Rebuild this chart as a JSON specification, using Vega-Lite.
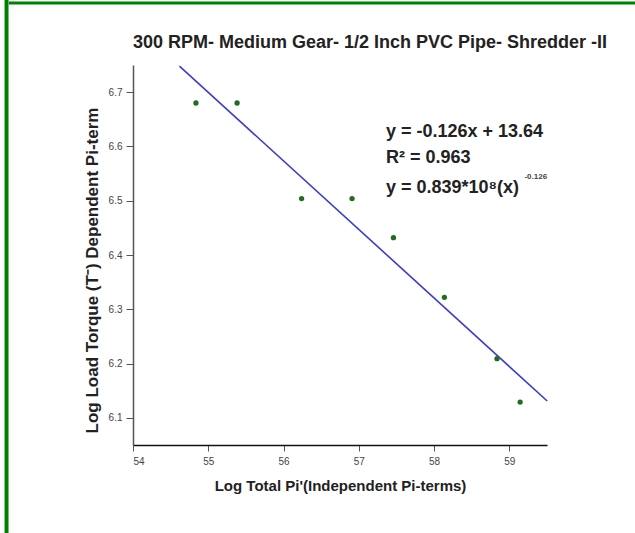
{
  "$schema": "https://vega.github.io/schema/vega-lite/v6.json",
  "autosize": "none",
  "width": 414,
  "height": 380,
  "padding": {"left": 133, "top": 65, "right": 88, "bottom": 88},
  "background": "#ffffff",
  "config": {
    "view": {"stroke": null},
    "font": "Liberation Sans"
  },
  "title": {
    "text": "300 RPM- Medium Gear- 1/2 Inch PVC Pipe- Shredder -II",
    "font": "Liberation Sans",
    "fontSize": 18,
    "fontWeight": "bold",
    "color": "#222222",
    "anchor": "middle",
    "frame": "group",
    "dx": 30,
    "offset": -60
  },
  "datasets": {
    "points": [
      {"x": 54.836, "y": 6.680},
      {"x": 55.383, "y": 6.680},
      {"x": 56.240, "y": 6.504},
      {"x": 56.910, "y": 6.504},
      {"x": 57.460, "y": 6.432},
      {"x": 58.137, "y": 6.322},
      {"x": 58.836, "y": 6.209},
      {"x": 59.143, "y": 6.129}
    ],
    "fit": [
      {"x": 54.617, "y": 6.748},
      {"x": 59.503, "y": 6.131}
    ],
    "notes": [
      {"x": 57.36, "y": 6.626, "label": "y = -0.126x + 13.64"},
      {"x": 57.36, "y": 6.578, "label": "R² = 0.963"},
      {"x": 57.36, "y": 6.523, "label": "y = 0.839*10⁸(x)"}
    ],
    "sup": [
      {"x": 59.2, "y": 6.543, "label": "-0.126"}
    ],
    "frameV": [
      {"x": 52.32, "y": 6.88, "y2": 5.88}
    ],
    "frameH": [
      {"x": 52.35, "x2": 60.7, "y": 6.8644}
    ]
  },
  "layer": [
    {
      "data": {"name": "fit"},
      "mark": {"type": "line", "color": "#3b3bcc", "strokeWidth": 1.6},
      "encoding": {
        "x": {
          "field": "x", "type": "quantitative",
          "scale": {"domain": [54, 59.5], "nice": false, "zero": false},
          "axis": {
            "title": "Log Total Pi'(Independent Pi-terms)",
            "values": [54, 55, 56, 57, 58, 59],
            "format": "d",
            "grid": false,
            "domainColor": "#111111",
            "domainWidth": 1.5,
            "tickColor": "#555555",
            "tickSize": 6,
            "labelFont": "Liberation Sans",
            "labelFontSize": 10,
            "labelColor": "#444444",
            "labelPadding": 5,
            "titleFont": "Liberation Sans",
            "titleFontSize": 15,
            "titleFontWeight": "bold",
            "titleColor": "#222222",
            "titlePadding": 12
          }
        },
        "y": {
          "field": "y", "type": "quantitative",
          "scale": {"domain": [6.05, 6.75], "nice": false, "zero": false},
          "axis": {
            "title": "Log Load Torque (T⁻) Dependent Pi-term",
            "values": [6.1, 6.2, 6.3, 6.4, 6.5, 6.6, 6.7],
            "format": ".1f",
            "grid": false,
            "domainColor": "#555555",
            "domainWidth": 1.5,
            "tickColor": "#555555",
            "tickSize": 7,
            "labelFont": "Liberation Sans",
            "labelFontSize": 10,
            "labelColor": "#444444",
            "labelPadding": 4,
            "titleFont": "Liberation Sans",
            "titleFontSize": 17,
            "titleFontWeight": "bold",
            "titleColor": "#222222",
            "titlePadding": 7,
            "titleY": 205
          }
        }
      }
    },
    {
      "data": {"name": "points"},
      "mark": {"type": "circle", "color": "#1f6e1f", "opacity": 1, "size": 28},
      "encoding": {
        "x": {"field": "x", "type": "quantitative"},
        "y": {"field": "y", "type": "quantitative"}
      }
    },
    {
      "data": {"name": "notes"},
      "mark": {"type": "text", "align": "left", "baseline": "middle", "font": "Liberation Sans", "fontSize": 18, "fontWeight": "bold", "color": "#222222"},
      "encoding": {
        "x": {"field": "x", "type": "quantitative"},
        "y": {"field": "y", "type": "quantitative"},
        "text": {"field": "label"}
      }
    },
    {
      "data": {"name": "sup"},
      "mark": {"type": "text", "align": "left", "baseline": "middle", "font": "Liberation Sans", "fontSize": 8, "fontWeight": "bold", "color": "#444444"},
      "encoding": {
        "x": {"field": "x", "type": "quantitative"},
        "y": {"field": "y", "type": "quantitative"},
        "text": {"field": "label"}
      }
    },
    {
      "data": {"name": "frameV"},
      "mark": {"type": "rule", "color": "#008000", "strokeWidth": 4, "clip": false},
      "encoding": {
        "x": {"field": "x", "type": "quantitative"},
        "y": {"field": "y", "type": "quantitative"},
        "y2": {"field": "y2"}
      }
    },
    {
      "data": {"name": "frameH"},
      "mark": {"type": "rule", "color": "#008000", "strokeWidth": 3, "clip": false},
      "encoding": {
        "x": {"field": "x", "type": "quantitative"},
        "x2": {"field": "x2"},
        "y": {"field": "y", "type": "quantitative"}
      }
    }
  ]
}
